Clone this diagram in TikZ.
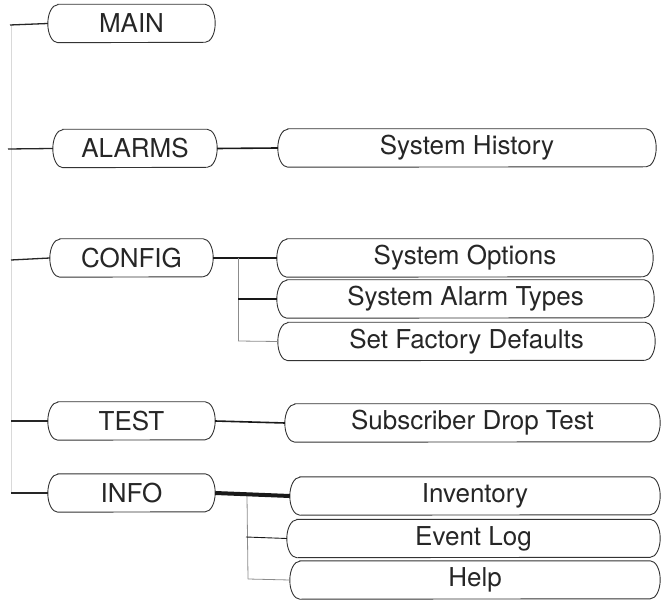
\documentclass[tikz,border=0pt]{standalone}
\usepackage{fontspec}
\setmainfont{TeX Gyre Heros}
\begin{document}
\begin{tikzpicture}[x=1pt,y=1pt,
  pillbox/.style={minimum height=38pt, inner sep=0pt, font=\fontsize{26}{28}\selectfont, text=black!85},
  outline/.style={draw=black!80, line width=0.9pt},
  rootline/.style={draw=black!85, line width=1.3pt},
  link/.style={draw=black!90, line width=1.6pt},
  thicklink/.style={draw=black!90, line width=4pt},
  greylink/.style={draw=black!45, line width=0.8pt},
  trunk/.style={draw=black!15, line width=0.8pt}]
\useasboundingbox (0,0) rectangle (661,600);
% main column
\node[pillbox, minimum width=167pt] (main)   at (131.5,576.5) {MAIN};
\node[pillbox, minimum width=164pt] (alarms) at (135,451.5) {ALARMS};
\node[pillbox, minimum width=163pt] (config) at (131.5,342) {CONFIG};
\node[pillbox, minimum width=167pt] (test)   at (131.5,179) {TEST};
\node[pillbox, minimum width=167pt] (info)   at (131.5,107) {INFO};
% sub items
\node[pillbox, minimum width=378pt] (hist)  at (467,452) {System History};
\node[pillbox, minimum width=376pt] (opts)  at (465,342) {System Options};
\node[pillbox, minimum width=377pt] (atyp)  at (465.5,301) {System Alarm Types};
\node[pillbox, minimum width=377pt] (fact)  at (466.5,258.5) {Set Factory Defaults};
\node[pillbox, minimum width=375pt] (subs)  at (472.5,177) {Subscriber Drop Test};
\node[pillbox, minimum width=370pt] (inv)   at (475,104) {Inventory};
\node[pillbox, minimum width=373pt] (evt)   at (473.5,61.5) {Event Log};
\node[pillbox, minimum width=370pt] (help)  at (475,20) {Help};
% outlines
\foreach \nm in {main,alarms,config,test,info,hist,opts,atyp,fact,subs,inv,evt,help}{
  \draw[outline] ([xshift=10pt]\nm.north west) -- ([xshift=-10pt]\nm.north east)
    arc[start angle=90,end angle=-90,x radius=10pt,y radius=19pt]
    -- ([xshift=10pt]\nm.south west)
    arc[start angle=270,end angle=90,x radius=10pt,y radius=19pt] -- cycle;
}
% trunk on the left
\coordinate (t0) at (11,575);
\coordinate (t1) at (11,107);
\draw[trunk] (t0) -- (t1);
\coordinate (lm) at (10,575);
\coordinate (la) at (8,451);
\coordinate (lc) at (11,340);
\coordinate (lt) at (11,179);
\coordinate (li) at (11,107);
\draw[rootline] (lm) -- (main.west);
\draw[rootline] (la) -- (alarms.west);
\draw[rootline] (lc) -- (config.west);
\draw[rootline] (lt) -- (test.west);
\draw[rootline] (li) -- (info.west);
% links
\draw[link] (alarms.east) -- (hist.west);
\draw[link] (config.east) -- (opts.west);
\coordinate (cb) at (238,342);
\coordinate (cb2) at (238,301);
\coordinate (cb3) at (238,259);
\draw[greylink] (cb) -- (cb3);
\draw[link] (cb2) -- (atyp.west);
\draw[greylink] (cb3) -- (fact.west);
\draw[link] (test.east) -- (subs.west);
\draw[thicklink] (info.east) -- (inv.west);
\coordinate (ib) at (247,104);
\coordinate (ib2) at (246,63);
\coordinate (ib3) at (248,21);
\draw[greylink] (ib) -- (ib3);
\draw[link, line width=0.9pt] (ib2) -- (evt.west);
\draw[greylink] (ib3) -- (help.west);
\end{tikzpicture}
\end{document}
